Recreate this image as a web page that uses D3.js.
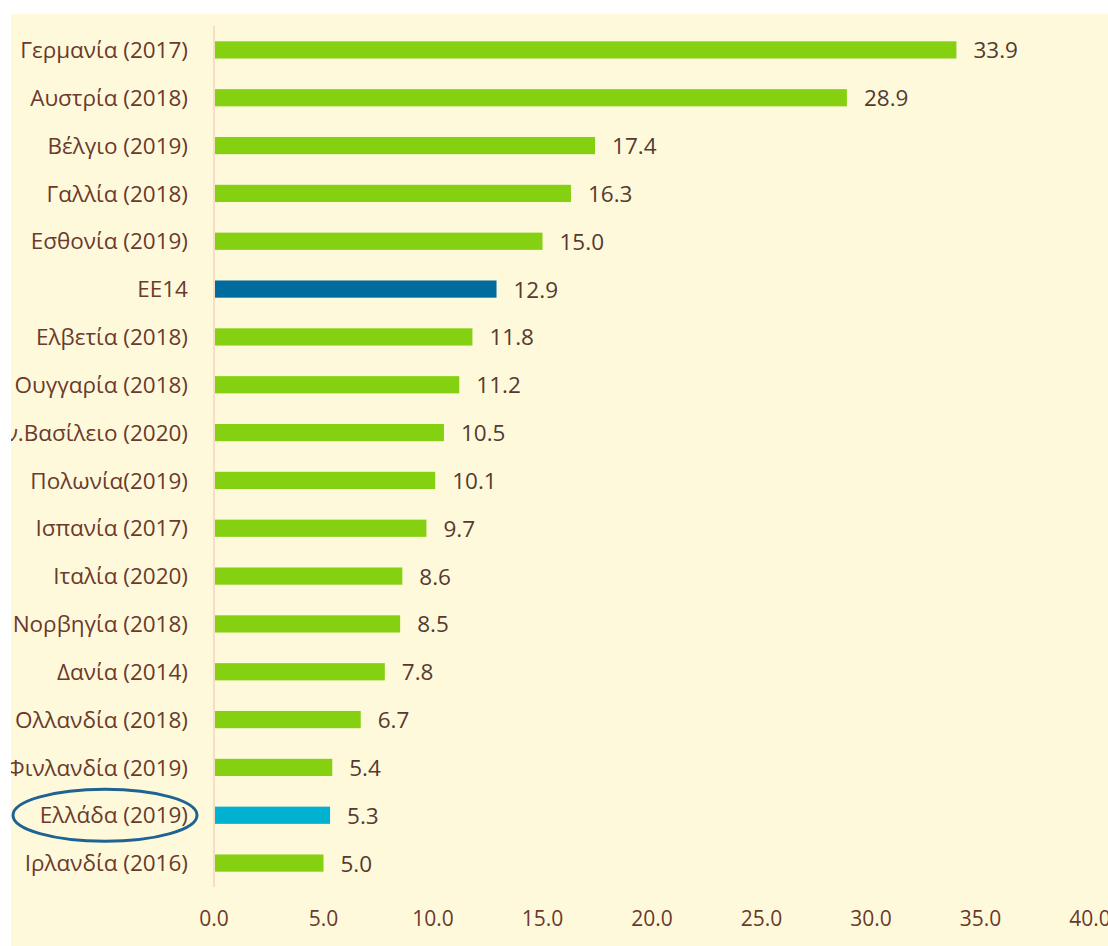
<!DOCTYPE html>
<html>
<head>
<meta charset="utf-8">
<script src="https://cdn.jsdelivr.net/npm/d3@7"></script>
<style>
  body { margin: 0; background: #fff; }
  svg { display: block; }
  text { font-family: "Open Sans", "DejaVu Sans", sans-serif; }
</style>
</head>
<body>
<svg width="1108" height="946"></svg>
<script>
// Data
const countries = ["Γερμανία (2017)", "Αυστρία (2018)", "Βέλγιο (2019)", "Γαλλία (2018)",
  "Εσθονία (2019)", "ΕΕ14", "Ελβετία (2018)", "Ουγγαρία (2018)", "Ην.Βασίλειο (2020)",
  "Πολωνία(2019)", "Ισπανία (2017)", "Ιταλία (2020)", "Νορβηγία (2018)", "Δανία (2014)",
  "Ολλανδία (2018)", "Φινλανδία (2019)", "Ελλάδα (2019)", "Ιρλανδία (2016)"];
const values = [33.9, 28.9, 17.4, 16.3, 15.0, 12.9, 11.8, 11.2, 10.5, 10.1, 9.7, 8.6, 8.5, 7.8, 6.7, 5.4, 5.3, 5.0];
const xTicks = [0, 5, 10, 15, 20, 25, 30, 35, 40];

const svg = d3.select("svg");

// Background panel
svg.append("rect")
    .attr("x", 11).attr("y", 14)
    .attr("width", 1097).attr("height", 932)
    .attr("fill", "#fff9dc");

const x = d3.scaleLinear()
    .domain([0, 40])
    .range([214, 1090]);

const y = d3.scaleBand()
    .domain(countries)
    .range([26, 887])
    .paddingInner(0.64)
    .paddingOuter(0.32);

// Vertical axis line
svg.append("line")
    .attr("x1", x(0)).attr("x2", x(0))
    .attr("y1", 26).attr("y2", 887)
    .attr("stroke", "#f4d3bd")
    .attr("stroke-width", 1.5);

const colorOf = d => d === "ΕΕ14" ? "#006b9f" : (d === "Ελλάδα (2019)" ? "#00b1d2" : "#86d012");

// Bars
svg.selectAll("rect.bar")
    .data(countries)
    .enter()
    .append("rect")
    .attr("class", "bar")
    .attr("x", x(0) + 1)
    .attr("y", d => y(d))
    .attr("width", (d, i) => x(values[i]) - x(0) - 1)
    .attr("height", y.bandwidth())
    .attr("fill", colorOf);

// Category labels
svg.selectAll("text.cat")
    .data(countries)
    .enter()
    .append("text")
    .attr("class", "cat")
    .attr("x", 188)
    .attr("y", d => y(d) + y.bandwidth() / 2)
    .attr("dy", "0.36em")
    .attr("text-anchor", "end")
    .attr("font-size", 22.5)
    .attr("fill", "#6a3a2c")
    .text(d => d);

// Value labels
svg.selectAll("text.val")
    .data(countries)
    .enter()
    .append("text")
    .attr("class", "val")
    .attr("x", (d, i) => x(values[i]) + 17)
    .attr("y", d => y(d) + y.bandwidth() / 2)
    .attr("dy", "0.38em")
    .attr("font-size", 22.5)
    .attr("fill", "#553a30")
    .text((d, i) => values[i].toFixed(1));

// X axis tick labels
svg.selectAll("text.tick")
    .data(xTicks)
    .enter()
    .append("text")
    .attr("class", "tick")
    .attr("x", d => x(d))
    .attr("y", 918)
    .attr("dy", "0.36em")
    .attr("text-anchor", "middle")
    .attr("font-size", 21)
    .attr("fill", "#6a3a2c")
    .text(d => d.toFixed(1));

// Highlight ellipse around Greece
const gy = y("Ελλάδα (2019)") + y.bandwidth() / 2;
svg.append("ellipse")
    .attr("cx", 105).attr("cy", gy)
    .attr("rx", 92).attr("ry", 26)
    .attr("fill", "none")
    .attr("stroke", "#1e6391")
    .attr("stroke-width", 3);

// Clip left edge like the cropped original
svg.append("rect")
    .attr("x", 0).attr("y", 0)
    .attr("width", 11).attr("height", 946)
    .attr("fill", "#fff");
</script>
</body>
</html>
